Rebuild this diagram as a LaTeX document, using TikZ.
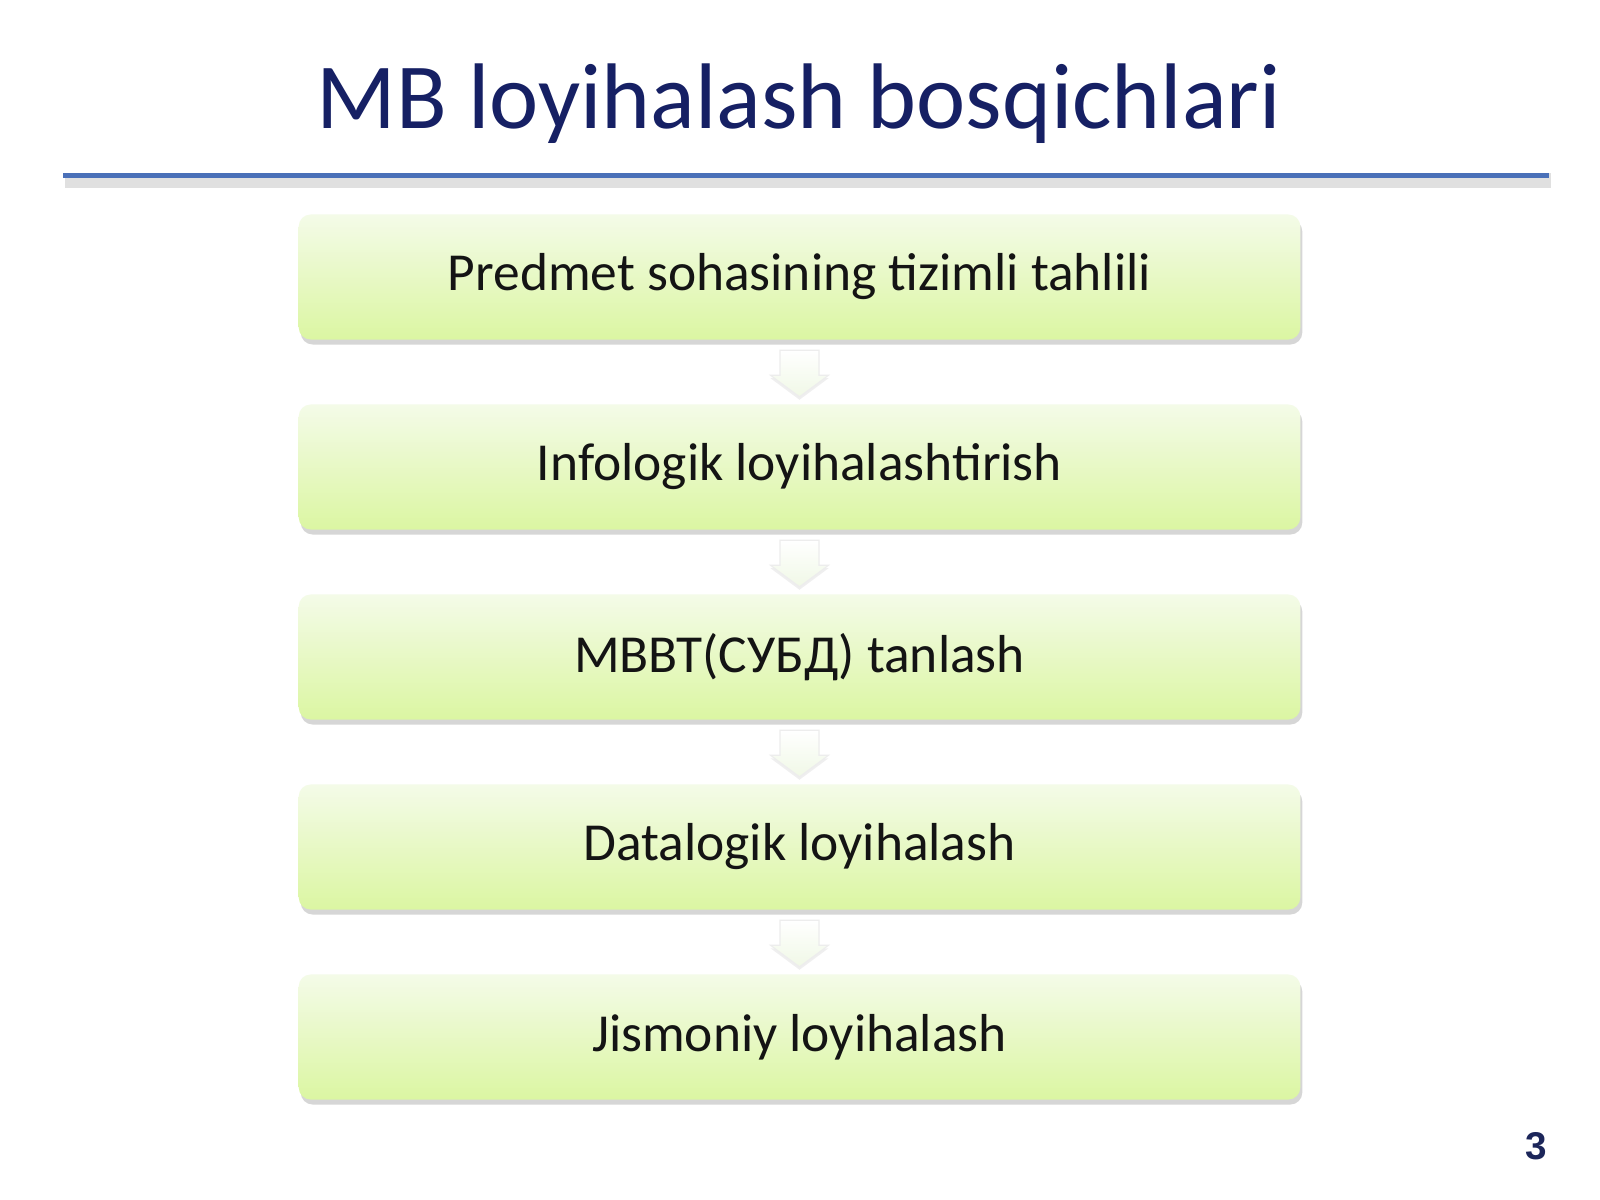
\documentclass[tikz,border=0pt]{standalone}
\usepackage{fontspec}
\setmainfont{Carlito}
\newfontfamily\numfont{Liberation Sans}
\usetikzlibrary{calc,shadows}
\definecolor{titlenavy}{RGB}{22,32,100}
\definecolor{numnavy}{RGB}{28,38,90}
\definecolor{rulblue}{RGB}{74,112,184}
\definecolor{boxtop}{RGB}{244,251,232}
\definecolor{boxbot}{RGB}{219,246,162}
\definecolor{arrbot}{RGB}{240,248,230}
\tikzset{
  stagebox/.style={rectangle, rounded corners=0.12cm, minimum width=10.01cm, minimum height=1.25cm,
    top color=boxtop, bottom color=boxbot, draw=none,
    drop shadow={shadow xshift=0.02cm, shadow yshift=-0.05cm, opacity=0.35, fill=black!45},
    font=\fontsize{15.2}{18}\selectfont, text=black!92},
  downarr/.style={top color=white, bottom color=arrbot, draw=black!7, line width=0.3pt,
    drop shadow={shadow xshift=0cm, shadow yshift=-0.03cm, opacity=0.12, fill=black!50}},
}
\begin{document}
\begin{tikzpicture}[x=0.01cm,y=-0.01cm]
\useasboundingbox (0,0) rectangle (1600,1200);
\fill[white] (0,0) rectangle (1600,1200);
% title
\node[anchor=base, text=titlenavy, font=\fontsize{26.5}{30}\selectfont, inner sep=0] (title) at (799,128) {MB loyihalash bosqichlari};
% rule with soft shadow
\coordinate (rl) at (63,175.5);
\coordinate (rr) at (1549,175.5);
\draw[black!12, line width=4pt] ($(rl)+(2,5)$) -- ($(rr)+(2,5)$);
\draw[rulblue, line width=1.7pt] (rl) -- (rr);
% boxes
\node[stagebox] (b1) at (799.5,277) {Predmet sohasining tizimli tahlili};
\node[stagebox] (b2) at (799.5,467) {Infologik loyihalashtirish};
\node[stagebox] (b3) at (799.5,657) {MBBT(СУБД) tanlash};
\node[stagebox] (b4) at (799.5,847) {Datalogik loyihalash};
\node[stagebox] (b5) at (799.5,1037) {Jismoniy loyihalash};
% arrows
\foreach \a/\b in {b1/b2,b2/b3,b3/b4,b4/b5}{
  \path[downarr] ($(\a.south)+(-19.5,10)$) -- ($(\a.south)+(19.5,10)$) -- ($(\a.south)+(19.5,35)$)
     -- ($(\a.south)+(29,35)$) -- ($(\b.north)+(0,-7)$) -- ($(\a.south)+(-29,35)$)
     -- ($(\a.south)+(-19.5,35)$) -- cycle;
}
% page number
\node[text=numnavy, font=\numfont\bfseries\fontsize{11}{13}\selectfont, inner sep=0] (pg) at (1536,1146) {3};
\end{tikzpicture}
\end{document}
